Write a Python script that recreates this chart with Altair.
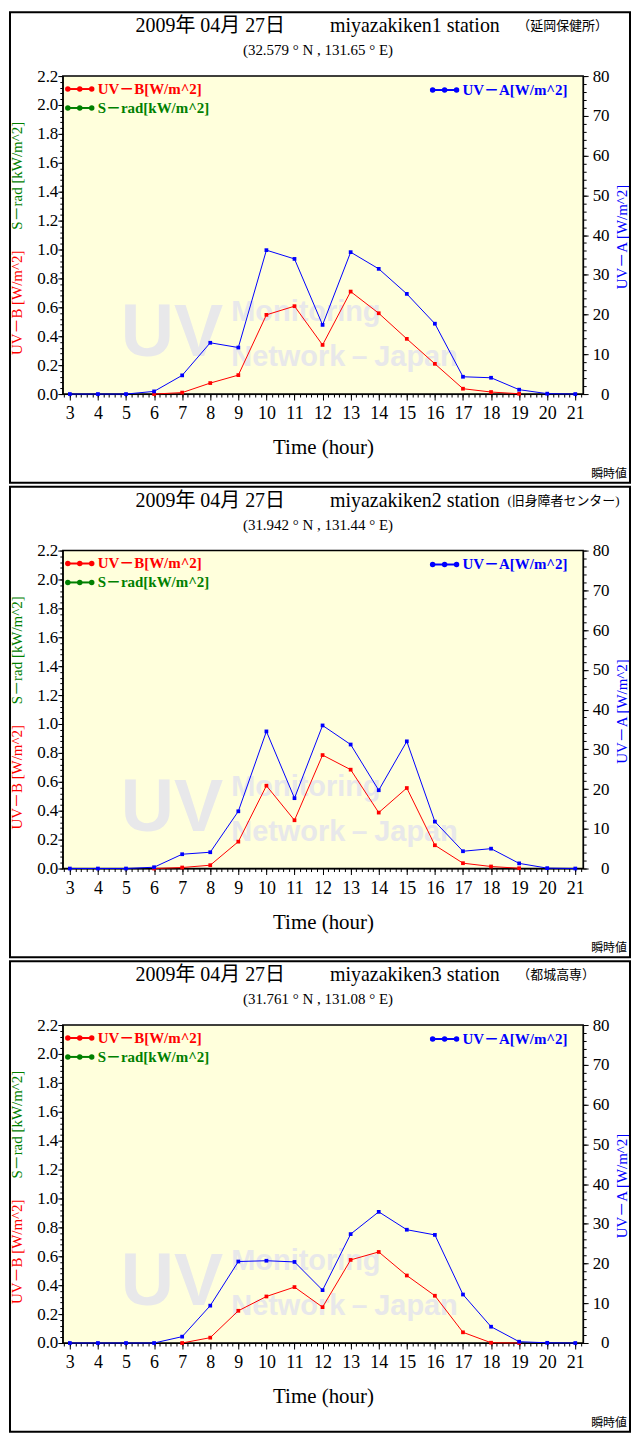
import altair as alt
import pandas as pd

# ---------------- data ----------------
hours = list(range(3, 22))

uvb_1 = [None, None, None, 0.0, 0.01, 0.076, 0.131, 0.548, 0.608, 0.34, 0.709, 0.559, 0.382, 0.209, 0.037, 0.014, 0.002, None, None]
uva_1 = [0, 0, 0, 0.67, 4.7, 12.9, 11.7, 36.2, 34.0, 17.4, 35.7, 31.5, 25.2, 17.7, 4.35, 4.1, 1.1, 0.1, 0]

uvb_2 = [None, None, None, 0.0, 0.007, 0.023, 0.186, 0.573, 0.334, 0.785, 0.684, 0.387, 0.557, 0.161, 0.037, 0.014, 0.002, None, None]
uva_2 = [0, 0, 0, 0.33, 3.6, 4.1, 14.4, 34.5, 17.7, 36.0, 31.2, 19.7, 32.0, 11.8, 4.35, 5.0, 1.3, 0.1, 0]

uvb_3 = [None, None, None, None, 0.0, 0.037, 0.223, 0.322, 0.387, 0.248, 0.575, 0.63, 0.467, 0.327, 0.074, 0.002, 0.0, None, None]
uva_3 = [0, 0, 0, 0, 1.6, 9.4, 20.5, 20.7, 20.4, 13.3, 27.4, 33.0, 28.5, 27.2, 12.2, 4.1, 0.33, 0.05, 0]

stations = ["miyazakiken1 station", "miyazakiken2 station", "miyazakiken3 station"]
places = ["（延岡保健所）", "(旧身障者センター)", "（都城高専）"]
coords = ["(32.579 ° N ,  131.65 ° E)", "(31.942 ° N ,  131.44 ° E)", "(31.761 ° N ,  131.08 ° E)"]
date_text = "2009年 04月 27日"

uvb_ticks = [0.0, 0.2, 0.4, 0.6, 0.8, 1.0, 1.2, 1.4, 1.6, 1.8, 2.0, 2.2]
uva_ticks = [0, 10, 20, 30, 40, 50, 60, 70, 80]
minor_x = [round(2.8 + 0.2 * i, 1) for i in range(93)]
minor_b = [round(0.04 * i, 2) for i in range(56)]
minor_a = list(range(0, 81, 2))

# ---------------- style ----------------
SERIF = "'Liberation Serif', 'Noto Sans CJK JP', serif"
SANS = "'Liberation Sans', Arial, sans-serif"
RED, BLUE, GREEN = "#ff0000", "#0000ff", "#008000"
WM = "#e8e8ea"
W, H = 522, 319
XDOM = [2.75, 21.28]
one = pd.DataFrame({"k": [0]})


def deco_text(text, x, y, size, color="black", align="left", weight="normal",
              font=SERIF, angle=0, baseline="middle"):
    kw = dict(align=align, baseline=baseline, font=font, fontSize=size,
              fontWeight=weight, color=color)
    if angle:
        kw["angle"] = angle
    return alt.Chart(one).mark_text(**kw).encode(
        x=alt.value(x), y=alt.value(y), text=alt.value(text))


def legend(x0, y, color, label):
    out = [alt.Chart(one).mark_rule(color=color, strokeWidth=2).encode(
        x=alt.value(x0), x2=alt.value(x0 + 24), y=alt.value(y))]
    for k in range(3):
        out.append(alt.Chart(one).mark_circle(color=color, size=30, opacity=1).encode(
            x=alt.value(x0 + 12 * k), y=alt.value(y)))
    out.append(deco_text(label, x0 + 30, y, 15, color=color, weight="bold"))
    return out


def panel(uvb, uva, station, place, place_x, coord):
    df = pd.DataFrame({"hour": hours, "uvb": uvb, "uva": uva})
    xs = alt.Scale(domain=XDOM, nice=False, zero=False)
    ybs = alt.Scale(domain=[0, 2.2], nice=False, zero=False)
    yas = alt.Scale(domain=[0, 80], nice=False, zero=False)

    x_main = alt.X("hour:Q", scale=xs, axis=alt.Axis(
        orient="bottom", values=hours, format="d", tickSize=6, tickColor="black",
        domainColor="black", labelPadding=5, labelFont=SERIF, labelFontSize=18,
        labelColor="black", labelFlush=False, labelOverlap=False, grid=False,
        title="Time (hour)", titleFont=SERIF, titleFontSize=21, titleFontWeight="normal",
        titleColor="black", titleX=W / 2, titleY=54, titleAlign="center",
        titleBaseline="middle"))
    x_none = alt.X("hour:Q", scale=xs, axis=None)

    yb_axis = alt.Axis(
        orient="left", values=uvb_ticks, format=".1f", tickSize=5, labelPadding=0,
        labelFont=SERIF, labelFontSize=17, labelColor="black", tickColor="black",
        domainColor="black", grid=False, labelFlush=False, labelOverlap=False,
        title="UV－B [W/m^2]", titleColor=RED, titleFont=SERIF, titleFontSize=15,
        titleFontWeight="normal", titleAngle=270, titleX=-46, titleY=227,
        titleAlign="center", titleBaseline="middle")
    ya_axis = alt.Axis(
        orient="right", values=uva_ticks, format="d", tickSize=5, labelPadding=21,
        labelAlign="right", labelFont=SERIF, labelFontSize=17, labelColor="black",
        tickColor="black", domainColor="black", grid=False, labelFlush=False,
        labelOverlap=False, title="UV－A [W/m^2]", titleColor=BLUE, titleFont=SERIF,
        titleFontSize=15, titleFontWeight="normal", titleAngle=270, titleX=38,
        titleY=161, titleAlign="center", titleBaseline="middle")

    b_series = alt.Chart(df).mark_line(
        color=RED, strokeWidth=1,
        point=alt.OverlayMarkDef(shape="square", size=14, filled=True, color=RED, opacity=1)
    ).encode(x=x_main, y=alt.Y("uvb:Q", scale=ybs, axis=yb_axis))

    a_series = alt.Chart(df).mark_line(
        color=BLUE, strokeWidth=1,
        point=alt.OverlayMarkDef(shape="square", size=14, filled=True, color=BLUE, opacity=1)
    ).encode(x=x_none, y=alt.Y("uva:Q", scale=yas, axis=ya_axis))

    minor_xy = alt.Chart(df).mark_point(opacity=0).encode(
        x=alt.X("hour:Q", scale=xs, axis=alt.Axis(
            orient="bottom", values=minor_x, labels=False, domain=False, tickSize=3,
            tickColor="black", grid=False, title="")),
        y=alt.Y("uvb:Q", scale=ybs, axis=alt.Axis(
            orient="left", values=minor_b, labels=False, domain=False, tickSize=3,
            tickColor="black", grid=False, title="")))
    minor_r = alt.Chart(df).mark_point(opacity=0).encode(
        x=x_none,
        y=alt.Y("uva:Q", scale=yas, axis=alt.Axis(
            orient="right", values=minor_a, labels=False, domain=False, tickSize=3,
            tickColor="black", grid=False, title="")))

    watermark = [
        deco_text("UV", 58, 281, 74, color=WM, font=SANS, weight="bold", baseline="alphabetic"),
        deco_text("Monitoring", 169, 246, 29, color=WM, font=SANS, weight="bold", baseline="alphabetic"),
        deco_text("Network－Japan", 169, 291, 29, color=WM, font=SANS, weight="bold", baseline="alphabetic"),
    ]

    frame = alt.Chart(one).mark_rect(fillOpacity=0, stroke="black", strokeWidth=2).encode(
        x=alt.value(-53), x2=alt.value(569), y=alt.value(-64), y2=alt.value(408))

    texts = [
        deco_text(date_text, 73, -50, 20),
        deco_text(station, 268, -50, 20),
        deco_text(place, place_x, -50, 13),
        deco_text(coord, 256, -26, 15, align="center"),
        deco_text("S－rad [kW/m^2]", -46, 100, 15, color=GREEN, align="center", angle=270),
        deco_text("瞬時値", 566, 406, 12, align="right", baseline="bottom"),
    ]
    legends = (legend(5, 13, RED, "UV－B[W/m^2]")
               + legend(5, 32, GREEN, "S－rad[kW/m^2]")
               + legend(371, 14, BLUE, "UV－A[W/m^2]"))

    layers = watermark + [minor_xy, minor_r, b_series, a_series, frame] + texts + legends
    return alt.layer(*layers).resolve_scale(x="independent", y="independent").properties(
        width=W, height=H)


p1 = panel(uvb_1, uva_1, stations[0], places[0], 456, coords[0])
p2 = panel(uvb_2, uva_2, stations[1], places[1], 446, coords[1])
p3 = panel(uvb_3, uva_3, stations[2], places[2], 456, coords[2])

chart = alt.vconcat(p1, p2, p3, spacing=0).properties(padding=0).configure_view(
    fill="#ffffdc", stroke="black", strokeWidth=1.5).configure_concat(spacing=0)

chart.save("out.html", embed_options={"renderer": "svg", "actions": False})
